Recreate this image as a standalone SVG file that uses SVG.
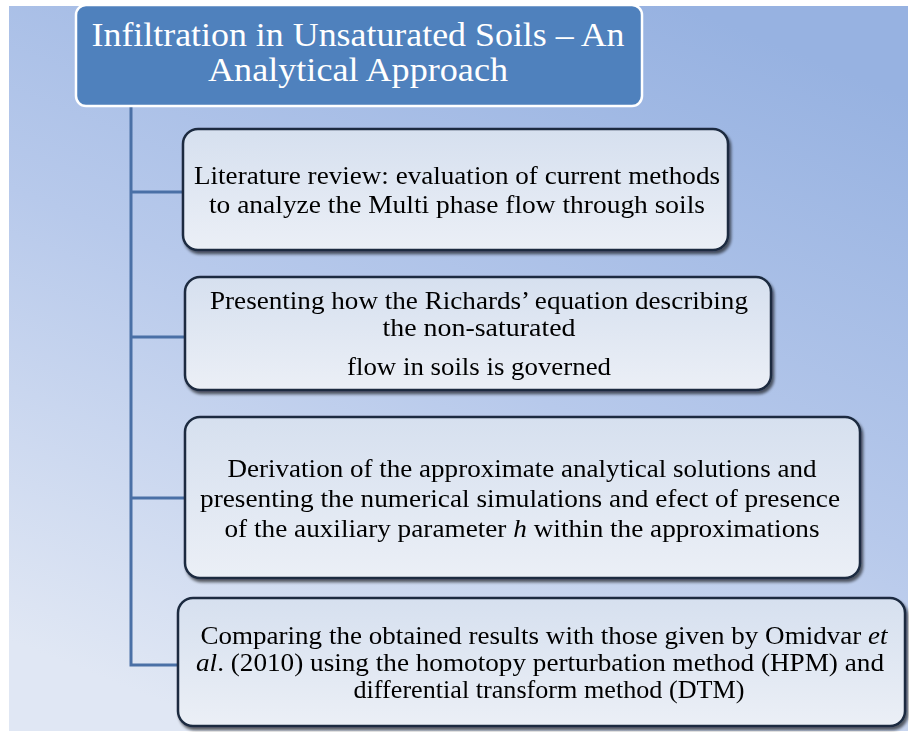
<svg xmlns="http://www.w3.org/2000/svg" width="909" height="732" viewBox="0 0 909 732">
<defs>
<linearGradient id="bg" x1="0.75" y1="0" x2="0.25" y2="1">
<stop offset="0" stop-color="#97b2e1"/>
<stop offset="0.5" stop-color="#b7c9eb"/>
<stop offset="1" stop-color="#e0e7f4"/>
</linearGradient>
<linearGradient id="boxfill" x1="0" y1="0" x2="0" y2="1">
<stop offset="0" stop-color="#d6e0ef"/>
<stop offset="1" stop-color="#ebeff6"/>
</linearGradient>
<filter id="sh" x="-5%" y="-5%" width="110%" height="115%">
<feGaussianBlur in="SourceAlpha" stdDeviation="1.5"/>
<feOffset dx="2" dy="3" result="o"/>
<feComponentTransfer><feFuncA type="linear" slope="0.6"/></feComponentTransfer>
<feMerge><feMergeNode/><feMergeNode in="SourceGraphic"/></feMerge>
</filter>
</defs>
<style>
.box{fill:url(#boxfill);stroke:#1c2b40;stroke-width:2.5}
.t{font-family:"Liberation Serif","Times New Roman",serif;font-size:25px;fill:#000;text-anchor:middle}
.title{font-family:"Liberation Serif","Times New Roman",serif;font-size:33px;fill:#fff;text-anchor:middle}
.conn{stroke:#4a70a6;stroke-width:3;fill:none}
</style>
<rect x="9" y="6" width="899" height="725" fill="url(#bg)"/>
<g id="connectors">
<path class="conn" d="M131 106 V665 H178"/>
<path class="conn" d="M131 192 H183"/>
<path class="conn" d="M131 337 H185"/>
<path class="conn" d="M131 498 H185"/>
</g>
<g id="title">
<rect x="76" y="5" width="566" height="101" rx="10" fill="#4f81bd" stroke="#fff" stroke-width="2.5"/>
<text class="title" x="358" y="46" textLength="533" lengthAdjust="spacingAndGlyphs">Infiltration in Unsaturated Soils – An</text>
<text class="title" x="358" y="81" textLength="300" lengthAdjust="spacingAndGlyphs">Analytical Approach</text>
</g>
<g id="box1" filter="url(#sh)">
<rect class="box" x="183" y="129" width="545" height="121" rx="15"/>
<text class="t" x="457" y="184" textLength="526" lengthAdjust="spacingAndGlyphs">Literature review: evaluation of current methods</text>
<text class="t" x="457" y="213" textLength="496" lengthAdjust="spacingAndGlyphs">to analyze the Multi phase flow through soils</text>
</g>
<g id="box2" filter="url(#sh)">
<rect class="box" x="185" y="277" width="586" height="113" rx="15"/>
<text class="t" x="479" y="309" textLength="538" lengthAdjust="spacingAndGlyphs">Presenting how the Richards’ equation describing</text>
<text class="t" x="479" y="336" textLength="193" lengthAdjust="spacingAndGlyphs">the non-saturated</text>
<text class="t" x="479" y="375" textLength="264" lengthAdjust="spacingAndGlyphs">flow in soils is governed</text>
</g>
<g id="box3" filter="url(#sh)">
<rect class="box" x="185" y="417" width="675" height="161" rx="15"/>
<text class="t" x="522" y="477" textLength="589" lengthAdjust="spacingAndGlyphs">Derivation of the approximate analytical solutions and</text>
<text class="t" x="520" y="507" textLength="640" lengthAdjust="spacingAndGlyphs">presenting the numerical simulations and efect of presence</text>
<text class="t" x="522" y="537" textLength="595" lengthAdjust="spacingAndGlyphs">of the auxiliary parameter <tspan font-style="italic">h</tspan> within the approximations</text>
</g>
<g id="box4" filter="url(#sh)">
<rect class="box" x="178" y="598" width="727" height="128" rx="15"/>
<text class="t" x="544" y="644" textLength="687" lengthAdjust="spacingAndGlyphs">Comparing the obtained results with those given by Omidvar <tspan font-style="italic">et</tspan></text>
<text class="t" x="540" y="671" textLength="688" lengthAdjust="spacingAndGlyphs"><tspan font-style="italic">al</tspan>. (2010) using the homotopy perturbation method (HPM) and</text>
<text class="t" x="549" y="698" textLength="391" lengthAdjust="spacingAndGlyphs">differential transform method (DTM)</text>
</g>
</svg>
